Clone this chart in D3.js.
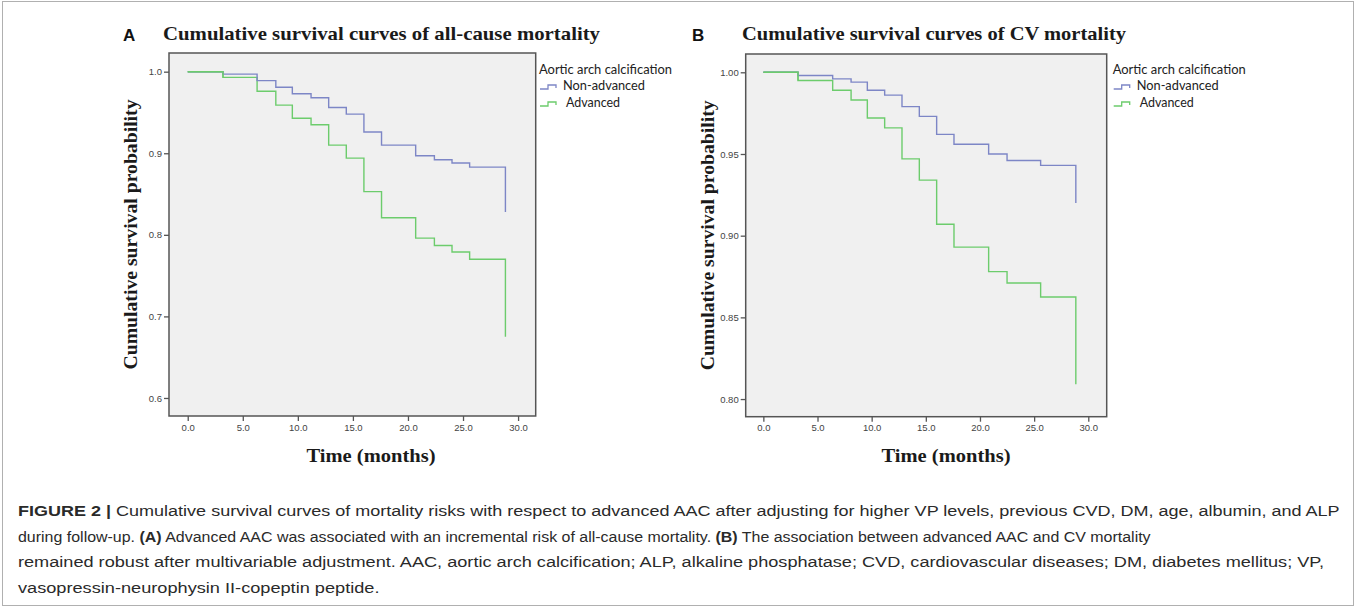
<!DOCTYPE html>
<html>
<head>
<meta charset="utf-8">
<script src="https://cdn.jsdelivr.net/npm/d3@7"></script>
<style>
  body { margin: 0; background: #fff; }
  svg { display: block; }
</style>
</head>
<body>
<svg id="chart" width="1357" height="608"></svg>
<script>
// ---------- DATA ----------
const xTicks = [0, 5, 10, 15, 20, 25, 30];

// Panel A: all-cause mortality
const timesA   = [0, 3.2, 6.3, 8.0, 9.5, 11.2, 12.8, 14.4, 16.0, 17.6, 20.7, 22.4, 24.0, 25.6, 28.85];
const nonAdvA  = [1.0, 0.997, 0.989, 0.981, 0.973, 0.968, 0.956, 0.948, 0.926, 0.910, 0.897, 0.892, 0.888, 0.883, 0.828];
const advA     = [1.0, 0.993, 0.976, 0.959, 0.943, 0.935, 0.910, 0.894, 0.853, 0.821, 0.796, 0.787, 0.779, 0.770, 0.675];
const yTicksA  = [0.6, 0.7, 0.8, 0.9, 1.0];

// Panel B: CV mortality
const timesB   = [0, 3.2, 6.4, 8.1, 9.6, 11.2, 12.8, 14.4, 16.0, 17.6, 20.8, 22.5, 25.6, 28.85];
const nonAdvB  = [1.0, 0.998, 0.996, 0.994, 0.989, 0.986, 0.979, 0.973, 0.962, 0.956, 0.950, 0.946, 0.943, 0.920];
const advB     = [1.0, 0.995, 0.989, 0.983, 0.972, 0.966, 0.947, 0.934, 0.907, 0.893, 0.878, 0.871, 0.8625, 0.809];
const yTicksB  = [0.80, 0.85, 0.90, 0.95, 1.00];

const groups = ["Non-advanced", "Advanced"];
const legendTitle = "Aortic arch calcification";
const titles = ["Cumulative survival curves of all-cause mortality", "Cumulative survival curves of CV mortality"];
const letters = ["A", "B"];
const yLabel = "Cumulative survival probability";
const xLabel = "Time (months)";

// ---------- STYLE ----------
const colors = { "Non-advanced": "#7d86c6", "Advanced": "#6ccc6c" };
const svg = d3.select("#chart");
svg.append("rect").attr("x", 0).attr("y", 0).attr("width", 1357).attr("height", 608).attr("fill", "#fff");

function drawPanel(cfg) {
  const g = svg.append("g");
  const x = d3.scaleLinear().domain(cfg.xDomain).range([cfg.left, cfg.right]);
  const y = d3.scaleLinear().domain(cfg.yDomain).range([cfg.bottom, cfg.top]);

  g.append("rect")
    .attr("x", cfg.left).attr("y", cfg.top)
    .attr("width", cfg.right - cfg.left).attr("height", cfg.bottom - cfg.top)
    .attr("fill", "#f0f0f0");

  const line = d3.line().x(d => x(d[0])).y(d => y(d[1])).curve(d3.curveStepAfter);
  const seriesData = [
    { name: "Non-advanced", vals: cfg.nonAdv },
    { name: "Advanced", vals: cfg.adv }
  ];
  [seriesData[1], seriesData[0]].forEach(s => {
    g.append("path")
      .datum(cfg.times.map((t, i) => [t, s.vals[i]]))
      .attr("d", line)
      .attr("fill", "none")
      .attr("stroke", colors[s.name])
      .attr("stroke-width", 1.4);
  });
  g.append("path")
    .datum(cfg.times.slice(0, 2).map((t, i) => [t, cfg.adv[i]]))
    .attr("d", line)
    .attr("fill", "none")
    .attr("stroke", colors["Advanced"])
    .attr("stroke-width", 1.4);

  g.append("rect")
    .attr("x", cfg.left).attr("y", cfg.top)
    .attr("width", cfg.right - cfg.left).attr("height", cfg.bottom - cfg.top)
    .attr("fill", "none").attr("stroke", "#555").attr("stroke-width", 1.5);

  const yAxis = d3.axisLeft(y).tickValues(cfg.yTicks).tickSize(5).tickPadding(2)
    .tickFormat(d3.format(cfg.yFormat));
  const ya = g.append("g").attr("transform", `translate(${cfg.left},0)`).call(yAxis);
  const xAxis = d3.axisBottom(x).tickValues(xTicks).tickSize(5).tickPadding(3)
    .tickFormat(d3.format(".1f"));
  const xa = g.append("g").attr("transform", `translate(0,${cfg.bottom})`).call(xAxis);
  [ya, xa].forEach(a => {
    a.select(".domain").remove();
    a.selectAll(".tick line").attr("stroke", "#555").attr("stroke-width", 1.3);
    a.selectAll(".tick text").attr("fill", "#444")
      .style("font-family", "Arial, 'Liberation Sans', sans-serif").style("font-size", "9.5px");
  });

  g.append("text").attr("x", cfg.letterX).attr("y", 41)
    .text(cfg.letter)
    .style("font-family", "Arial, 'Liberation Sans', sans-serif")
    .style("font-weight", "bold").style("font-size", "17px").attr("fill", "#111");
  g.append("text").attr("x", cfg.titleX).attr("y", 40)
    .text(cfg.title)
    .attr("textLength", cfg.titleW).attr("lengthAdjust", "spacingAndGlyphs")
    .style("font-family", "'Liberation Serif', 'DejaVu Serif', serif")
    .style("font-weight", "bold").style("font-size", "19px").attr("fill", "#1a1a1a");

  g.append("text")
    .attr("transform", `translate(${cfg.yLabelX},${(cfg.top + cfg.bottom) / 2}) rotate(-90)`)
    .attr("text-anchor", "middle")
    .text(yLabel)
    .attr("textLength", 270).attr("lengthAdjust", "spacingAndGlyphs")
    .style("font-family", "'Liberation Serif', 'DejaVu Serif', serif")
    .style("font-weight", "bold").style("font-size", "19px").attr("fill", "#1a1a1a");
  g.append("text")
    .attr("x", cfg.xLabelX).attr("y", 462)
    .attr("text-anchor", "middle")
    .text(xLabel)
    .attr("textLength", 129).attr("lengthAdjust", "spacingAndGlyphs")
    .style("font-family", "'Liberation Serif', 'DejaVu Serif', serif")
    .style("font-weight", "bold").style("font-size", "19px").attr("fill", "#1a1a1a");

  const lg = g.append("g").attr("transform", `translate(${cfg.legendX},0)`);
  lg.append("text").attr("x", 0).attr("y", 73.5).text(legendTitle)
    .attr("textLength", 133).attr("lengthAdjust", "spacingAndGlyphs")
    .style("font-family", "Lato, 'Open Sans', sans-serif").style("font-size", "12.5px").attr("fill", "#222");
  groups.forEach((name, i) => {
    const cy = 86 + i * 17;
    lg.append("path")
      .attr("d", `M1,${cy + 3} H9 V${cy - 1} H17 V${cy + 2}`)
      .attr("fill", "none").attr("stroke", colors[name]).attr("stroke-width", 1.3);
    lg.append("text").attr("x", i === 0 ? 24 : 27).attr("y", cy + 3.5).text(name)
      .attr("textLength", i === 0 ? 82 : 54).attr("lengthAdjust", "spacingAndGlyphs")
      .style("font-family", "Lato, 'Open Sans', sans-serif").style("font-size", "12.5px").attr("fill", "#222");
  });
}

drawPanel({
  times: timesA, nonAdv: nonAdvA, adv: advA, yTicks: yTicksA, yFormat: ".1f",
  xDomain: [-1.7, 31.6], yDomain: [0.5779, 1.0229],
  left: 169, right: 535.7, top: 53, bottom: 416,
  letter: letters[0], letterX: 123, title: titles[0], titleX: 163, titleW: 437,
  yLabelX: 137, xLabelX: 371, legendX: 539
});
drawPanel({
  times: timesB, nonAdv: nonAdvB, adv: advB, yTicks: yTicksB, yFormat: ".2f",
  xDomain: [-1.63, 31.7], yDomain: [0.7892, 1.0112],
  left: 745.7, right: 1106.7, top: 54, bottom: 416.7,
  letter: letters[1], letterX: 692, title: titles[1], titleX: 742, titleW: 384,
  yLabelX: 714, xLabelX: 946, legendX: 1112.7
});

// ---------- CAPTION ----------
const captionLines = [
  [["FIGURE 2 | ", true], ["Cumulative survival curves of mortality risks with respect to advanced AAC after adjusting for higher VP levels, previous CVD, DM, age, albumin, and ALP", false]],
  [["during follow-up. ", false], ["(A)", true], [" Advanced AAC was associated with an incremental risk of all-cause mortality. ", false], ["(B)", true], [" The association between advanced AAC and CV mortality", false]],
  [["remained robust after multivariable adjustment. AAC, aortic arch calcification; ALP, alkaline phosphatase; CVD, cardiovascular diseases; DM, diabetes mellitus; VP,", false]],
  [["vasopressin-neurophysin II-copeptin peptide.", false]]
];
const captionEnds = [1340, 1152, 1325, 380];
svg.append("rect").attr("x", 2.5).attr("y", 1.5).attr("width", 1351).attr("height", 604)
  .attr("fill", "none").attr("stroke", "#b0b0b0").attr("stroke-width", 1);
captionLines.forEach((parts, i) => {
  const t = svg.append("text").attr("x", 0).attr("y", 0)
    .style("font-family", "'Liberation Sans', Arial, sans-serif")
    .style("font-size", "15.5px").attr("fill", "#2a2a2a");
  parts.forEach(([s, b]) => {
    t.append("tspan").text(s).style("font-weight", b ? "bold" : "normal");
  });
  const natural = t.node().getComputedTextLength();
  const sx = (captionEnds[i] - 18) / natural;
  t.attr("transform", `translate(18,${516 + i * 25.6}) scale(${sx},1)`);
});
</script>
</body>
</html>
